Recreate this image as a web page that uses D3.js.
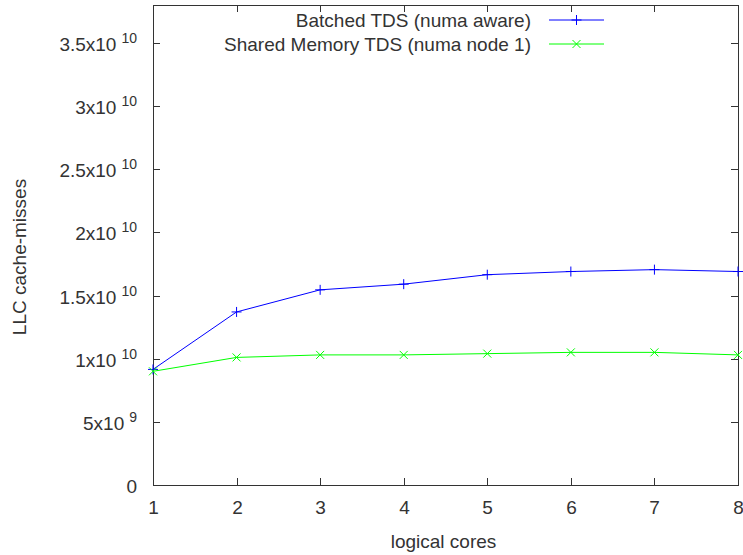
<!DOCTYPE html>
<html>
<head>
<meta charset="utf-8">
<script src="https://cdn.jsdelivr.net/npm/d3@7"></script>
<style>
  body { margin: 0; background: #fff; }
  text { font-family: "Liberation Sans", Arial, sans-serif; fill: #333; }
</style>
</head>
<body>
<svg id="chart" width="743" height="555"></svg>
<script>
// Data
const cores = [1, 2, 3, 4, 5, 6, 7, 8];
const batched = [9.15e9, 1.37e10, 1.545e10, 1.59e10, 1.665e10, 1.69e10, 1.705e10, 1.69e10];
const shared = [9.0e9, 1.01e10, 1.03e10, 1.03e10, 1.04e10, 1.05e10, 1.05e10, 1.03e10];
const yTicks = [0, 5e9, 1e10, 1.5e10, 2e10, 2.5e10, 3e10, 3.5e10];
const series = [
  {name: "Batched TDS (numa aware)", values: batched, colour: "#0000ff", marker: "plus"},
  {name: "Shared Memory TDS (numa node 1)", values: shared, colour: "#00ff00", marker: "cross"},
];

const margin = {left: 153, right: 5, top: 5, bottom: 70};
const width = 743, height = 555;
const fs = 19;
const svg = d3.select("#chart");

const x = d3.scaleLinear().domain([1, 8]).range([margin.left, width - margin.right]);
const y = d3.scaleLinear().domain([0, 3.8e10]).range([height - margin.bottom, margin.top]);

// Tick label formatter: gnuplot-style mantissa x 10^exp
function tickLabel(sel, v) {
  if (v === 0) { sel.append("tspan").text("0"); return; }
  let exp = Math.floor(Math.log10(v));
  let mant = +(v / Math.pow(10, exp)).toFixed(2);
  sel.append("tspan").text(mant + "x10");
  sel.append("tspan").attr("dx", 5).attr("dy", -8).attr("font-size", 14).text(exp);
}

const tickLen = 7;
const axisG = svg.append("g").attr("stroke", "#333").attr("stroke-width", 1);

// Y ticks (mirrored)
yTicks.forEach(v => {
  let yy = Math.round(y(v)) + 0.5;
  axisG.append("line").attr("x1", x(1)).attr("x2", x(1) + tickLen).attr("y1", yy).attr("y2", yy);
  axisG.append("line").attr("x1", x(8)).attr("x2", x(8) - tickLen).attr("y1", yy).attr("y2", yy);
  let t = svg.append("text").attr("x", 137).attr("y", yy + 7)
    .attr("text-anchor", "end").attr("font-size", fs);
  tickLabel(t, v);
});

// X ticks (mirrored)
cores.forEach(c => {
  let xx = Math.round(x(c)) + 0.5;
  axisG.append("line").attr("x1", xx).attr("x2", xx).attr("y1", y(0)).attr("y2", y(0) - tickLen);
  axisG.append("line").attr("x1", xx).attr("x2", xx).attr("y1", y.range()[1]).attr("y2", y.range()[1] + tickLen);
  svg.append("text").attr("x", xx).attr("y", 514).attr("text-anchor", "middle")
    .attr("font-size", fs).text(c);
});

// Border
svg.append("rect")
  .attr("x", Math.round(x(1)) + 0.5).attr("y", Math.round(y.range()[1]) + 0.5)
  .attr("width", Math.round(x(8) - x(1))).attr("height", Math.round(y(0) - y.range()[1]))
  .attr("fill", "none").attr("stroke", "#333").attr("stroke-width", 1);

// Axis titles
svg.append("text").attr("x", (x(1) + x(8)) / 2 - 2).attr("y", 548).attr("text-anchor", "middle")
  .attr("font-size", fs).text("logical cores");
svg.append("text").attr("transform", `translate(26,${(y(0) + y.range()[1]) / 2 + 12}) rotate(-90)`)
  .attr("text-anchor", "middle").attr("font-size", fs).text("LLC cache-misses");

// Markers
function drawMarker(g, mx, my, type, colour, s) {
  if (type === "plus") {
    g.append("line").attr("x1", mx - s).attr("x2", mx + s).attr("y1", my).attr("y2", my).attr("stroke", colour);
    g.append("line").attr("x1", mx).attr("x2", mx).attr("y1", my - s).attr("y2", my + s).attr("stroke", colour);
  } else {
    g.append("line").attr("x1", mx - s).attr("x2", mx + s).attr("y1", my - s).attr("y2", my + s).attr("stroke", colour);
    g.append("line").attr("x1", mx - s).attr("x2", mx + s).attr("y1", my + s).attr("y2", my - s).attr("stroke", colour);
  }
}

const line = d3.line().x((d, i) => x(cores[i])).y(d => y(d));

series.forEach((s, k) => {
  let g = svg.append("g");
  g.append("path").datum(s.values).attr("d", line)
    .attr("fill", "none").attr("stroke", s.colour).attr("stroke-width", 1);
  s.values.forEach((v, i) => drawMarker(g, x(cores[i]), y(v), s.marker, s.colour, s.marker === "plus" ? 5 : 4));
  // Legend
  let ly = 20 + k * 24;
  svg.append("text").attr("x", 531).attr("y", ly + 7).attr("text-anchor", "end")
    .attr("font-size", fs).text(s.name);
  g.append("line").attr("x1", 549).attr("x2", 604).attr("y1", ly).attr("y2", ly).attr("stroke", s.colour);
  drawMarker(g, 576.5, ly, s.marker, s.colour, s.marker === "plus" ? 5 : 4);
});
</script>
</body>
</html>
